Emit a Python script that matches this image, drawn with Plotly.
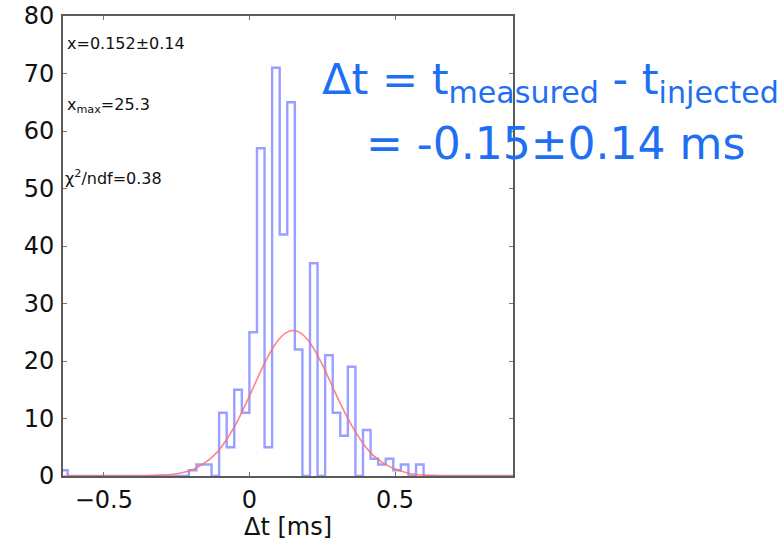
import plotly.graph_objects as go

# ---------------- data ----------------
bin_start = -0.65      # left edge of first histogram bin [ms]
bin_width = 0.026      # histogram bin width [ms]
counts = [
    1, 0, 0, 0, 0, 0, 0, 0, 0, 0,      # -0.650 ... -0.416
    0, 0, 0, 0, 0, 0, 0, 1, 2, 2,      # -0.390 ... -0.182
    0, 11, 5, 15, 11,                  # -0.130 ... -0.026
    25, 57, 5, 71, 42, 65, 22, 0, 37, 0,   # 0.000 ... 0.234
    21, 11, 7, 19, 0, 8, 3, 2, 3, 1,       # 0.260 ... 0.494
    2, 0, 2, 0, 0, 0, 0, 0, 0, 0,          # 0.520 ... 0.754
    0, 0, 0, 0, 0,                         # 0.780 ... 0.884
]

# fitted curve
curve_x = [-0.64, -0.35, -0.3, -0.25, -0.2, -0.175, -0.15, -0.125, -0.1, -0.075,
           -0.05, -0.025, 0.0, 0.025, 0.05, 0.075, 0.1, 0.125, 0.15, 0.175,
           0.2, 0.225, 0.25, 0.275, 0.3, 0.325, 0.35, 0.375, 0.4, 0.425,
           0.45, 0.475, 0.5, 0.55, 0.6, 0.65, 0.905]
curve_y = [0.0, 0.05, 0.15, 0.4, 1.0, 1.6, 2.4, 3.4, 4.8, 6.6,
           8.7, 11.2, 13.9, 16.7, 19.4, 21.8, 23.7, 24.9, 25.3, 24.9,
           23.7, 21.8, 19.4, 16.7, 13.9, 11.3, 8.9, 6.8, 5.0, 3.6,
           2.6, 1.8, 1.2, 0.45, 0.15, 0.05, 0.0]

x_tickvals = [-0.5, 0, 0.5]
x_ticktext = ["\u22120.5", "0", "0.5"]
y_tickvals = [0, 10, 20, 30, 40, 50, 60, 70, 80]
x_title = "\u0394t [ms]"

fit_text = ["x=0.152\u00b10.14", "x<sub>max</sub>=25.3", "\u03c7<sup>2</sup>/ndf=0.38"]
big_line1 = "\u0394t = t<sub>measured</sub> - t<sub>injected</sub>"
big_line2 = "= -0.15\u00b10.14 ms"

# ---------------- figure ----------------
edges = [bin_start + bin_width * k for k in range(len(counts) + 1)]
step_y = counts + [counts[-1]]

fig = go.Figure()
fig.add_trace(go.Scatter(
    x=edges, y=step_y, mode="lines", line_shape="hv",
    line=dict(color="rgba(110,120,255,0.7)", width=2.4),
    hoverinfo="skip", showlegend=False, cliponaxis=True,
))
fig.add_trace(go.Scatter(
    x=curve_x, y=curve_y, mode="lines", line_shape="spline",
    line=dict(color="rgba(255,110,110,0.85)", width=1.6),
    hoverinfo="skip", showlegend=False,
))

W, H = 784, 541
L, R, T, B = 63, 513, 16, 476


def px(xp):
    return (xp - L) / (R - L)


def py(yp):
    return (B - yp) / (B - T)


small_font = dict(family="DejaVu Sans", size=16, color="#111111")
annots = [
    dict(text=fit_text[0], x=px(65), y=py(43), font=small_font),
    dict(text=fit_text[1], x=px(65), y=py(105), font=small_font),
    dict(text=fit_text[2], x=px(63), y=py(178), font=small_font),
]
for a in annots:
    a.update(xref="paper", yref="paper", xanchor="left", yanchor="middle",
             showarrow=False)

blue = "#1f6ff2"
annots.append(dict(text=big_line1, x=px(320), y=py(82), xref="paper", yref="paper",
                   xanchor="left", yanchor="middle", showarrow=False,
                   font=dict(family="DejaVu Sans", size=43, color=blue)))
annots.append(dict(text=big_line2, x=px(364), y=py(143), xref="paper", yref="paper",
                   xanchor="left", yanchor="middle", showarrow=False,
                   font=dict(family="DejaVu Sans", size=44, color=blue)))
# x-axis title placed as a paper annotation for exact position
annots.append(dict(text=x_title, x=0.5, y=py(527), xref="paper", yref="paper",
                   xanchor="center", yanchor="middle", showarrow=False,
                   font=dict(family="DejaVu Sans", size=24, color="#111111")))

axis_common = dict(
    showline=True, linecolor="#5a5a5a", linewidth=2, mirror="allticks",
    ticks="inside", ticklen=4, tickwidth=1, tickcolor="#777777",
    showgrid=False, zeroline=False, automargin=False,
    tickfont=dict(family="DejaVu Sans", size=24, color="#111111"),
)

fig.update_layout(
    width=W, height=H,
    margin=dict(l=L, r=W - R, t=T, b=H - B, pad=0, autoexpand=False),
    paper_bgcolor="white", plot_bgcolor="white",
    xaxis=dict(range=[-0.64, 0.905], tickvals=x_tickvals, ticktext=x_ticktext,
               ticklabelstandoff=1, **axis_common),
    yaxis=dict(range=[0, 80], tickvals=y_tickvals, ticklabelstandoff=2,
               **axis_common),
    annotations=annots,
)

fig.write_html("out.html")
